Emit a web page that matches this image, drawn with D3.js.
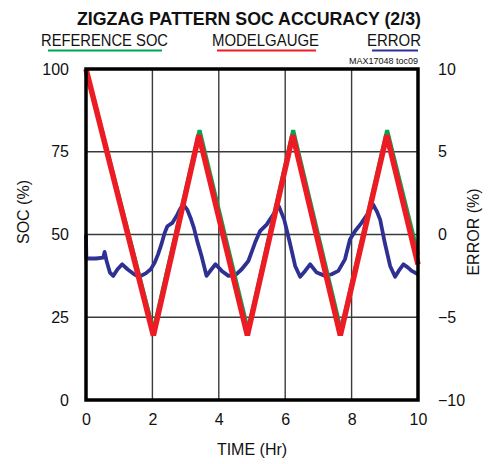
<!DOCTYPE html>
<html>
<head>
<meta charset="utf-8">
<script src="https://cdn.jsdelivr.net/npm/d3@7"></script>
<style>
  body { margin: 0; background: #fff; }
  svg text { font-family: "Liberation Sans", Arial, sans-serif; fill: #111; }
</style>
</head>
<body>
<div id="chart"></div>
<script>
'use strict';

// Reference SOC (green) breakpoints
const refTime = [0, 2.03, 3.42, 4.88, 6.24, 7.68, 9.07, 10];
const refSoc = [100, 21, 81.5, 21, 81.5, 21, 81.5, 44];

// ModelGauge SOC (red) breakpoints
const gaugeTime = [0, 2.03, 3.4, 4.86, 6.23, 7.66, 9.06, 10];
const gaugeSoc = [100, 19.5, 80, 19.5, 80, 19.5, 80, 41];

// Error (blue), right axis
const errTime = [0, 0.01, 0.3, 0.52, 0.56, 0.62, 0.72, 0.82, 0.95, 1.09, 1.25, 1.45, 1.6, 1.8, 1.95,
    2.07, 2.17, 2.27, 2.37, 2.45, 2.6, 2.75, 2.85, 2.95, 3.05, 3.15, 3.25, 3.35, 3.48, 3.63, 3.78,
    3.9, 4.09, 4.29, 4.5, 4.69, 4.89, 5.0, 5.09, 5.24, 5.44, 5.64, 5.81, 5.97, 6.14, 6.3, 6.45,
    6.6, 6.75, 6.95, 7.2, 7.4, 7.6, 7.8, 7.95, 8.1, 8.3, 8.5, 8.65, 8.76, 8.86, 9.0, 9.16, 9.31,
    9.45, 9.56, 9.7, 9.81, 10];
const errValue = [0, -1.45, -1.45, -1.4, -1.05, -1.6, -2.3, -2.5, -2.1, -1.8, -2.1, -2.4, -2.55, -2.35, -2.1,
    -1.7, -1.2, -0.6, 0.1, 0.5, 0.7, 1.2, 1.6, 1.75, 1.5, 1.0, 0.4, -0.4, -1.3, -2.5, -2.1,
    -1.8, -2.2, -2.5, -2.45, -2.1, -1.6, -1.0, -0.5, 0.2, 0.6, 1.2, 1.7, 0.9, -0.5, -1.9, -2.55,
    -2.2, -1.8, -2.3, -2.5, -2.4, -2.2, -1.5, -0.3, 0.2, 0.7, 1.3, 1.8, 1.4, 0.9, -0.5, -1.9, -2.55,
    -2.1, -1.8, -2.0, -2.2, -2.4];

const xTicks = [0, 2, 4, 6, 8, 10];
const socTicks = [0, 25, 50, 75, 100];
const errTicks = [-10, -5, 0, 5, 10];

const legendItems = [
    { label: "REFERENCE SOC", color: "#00a651" },
    { label: "MODELGAUGE", color: "#ed1c24" },
    { label: "ERROR", color: "#2e3192" }
];

const W = 488, H = 464;
const plot = { left: 86, right: 418, top: 69, bottom: 400 };

const svg = d3.select("#chart").append("svg")
    .attr("width", W)
    .attr("height", H);

const x = d3.scaleLinear().domain([0, 10]).range([plot.left, plot.right]);
const ySoc = d3.scaleLinear().domain([0, 100]).range([plot.bottom, plot.top]);
const yErr = d3.scaleLinear().domain([-10, 10]).range([plot.bottom, plot.top]);

// title
svg.append("text")
    .attr("x", 77).attr("y", 25)
    .attr("textLength", 344)
    .attr("lengthAdjust", "spacingAndGlyphs")
    .style("font-size", "19px")
    .style("font-weight", "bold")
    .text("ZIGZAG PATTERN SOC ACCURACY (2/3)");

// legend row
const legendPos = [
    { tx: 41, tw: 127, lx1: 48, lx2: 162 },
    { tx: 212, tw: 107, lx1: 217, lx2: 316 },
    { tx: 367, tw: 54, lx1: 372, lx2: 418 }
];
legendItems.forEach((d, i) => {
    const p = legendPos[i];
    svg.append("text")
        .attr("x", p.tx).attr("y", 46)
        .attr("textLength", p.tw)
        .attr("lengthAdjust", "spacingAndGlyphs")
        .style("font-size", "16px")
        .text(d.label);
    svg.append("line")
        .attr("x1", p.lx1).attr("x2", p.lx2)
        .attr("y1", 50.5).attr("y2", 50.5)
        .attr("stroke", d.color)
        .attr("stroke-width", 2.2);
});

svg.append("text")
    .attr("x", 418).attr("y", 64)
    .attr("text-anchor", "end")
    .style("font-size", "9px")
    .text("MAX17048 toc09");

// grid
const grid = svg.append("g");
grid.selectAll(".vgrid")
    .data(xTicks.slice(1, -1))
    .enter().append("line")
    .attr("x1", d => x(d)).attr("x2", d => x(d))
    .attr("y1", plot.top).attr("y2", plot.bottom)
    .attr("stroke", "#3a3a3a").attr("stroke-width", 1.4);
grid.selectAll(".hgrid")
    .data(socTicks.slice(1, -1))
    .enter().append("line")
    .attr("x1", plot.left).attr("x2", plot.right)
    .attr("y1", d => ySoc(d)).attr("y2", d => ySoc(d))
    .attr("stroke", "#3a3a3a").attr("stroke-width", 1.4);

// series
const errLine = d3.line()
    .x((d, i) => x(errTime[i]))
    .y(d => yErr(d));
svg.append("path")
    .datum(errValue)
    .attr("d", errLine)
    .attr("fill", "none")
    .attr("stroke", "#2e3192")
    .attr("stroke-width", 3.8)
    .attr("stroke-linejoin", "round");

const refLine = d3.line()
    .x((d, i) => x(refTime[i]))
    .y(d => ySoc(d));
svg.append("path")
    .datum(refSoc)
    .attr("d", refLine)
    .attr("fill", "none")
    .attr("stroke", "#00a651")
    .attr("stroke-width", 4);

const gaugeLine = d3.line()
    .x((d, i) => x(gaugeTime[i]))
    .y(d => ySoc(d));
svg.append("path")
    .datum(gaugeSoc)
    .attr("d", gaugeLine)
    .attr("fill", "none")
    .attr("stroke", "#ed1c24")
    .attr("stroke-width", 5.5);

// frame
svg.append("rect")
    .attr("x", plot.left).attr("y", plot.top)
    .attr("width", plot.right - plot.left)
    .attr("height", plot.bottom - plot.top)
    .attr("fill", "none")
    .attr("stroke", "#000")
    .attr("stroke-width", 3.5);

// axes labels
const xAxis = d3.axisBottom(x).tickValues(xTicks).tickSize(0).tickPadding(14);
svg.append("g")
    .attr("transform", "translate(0," + plot.bottom + ")")
    .call(xAxis)
    .call(g => g.select(".domain").remove())
    .selectAll("text")
    .style("font-size", "16px")
    .style("font-family", "Liberation Sans, Arial, sans-serif")
    .attr("fill", "#111");

const yAxisL = d3.axisLeft(ySoc).tickValues(socTicks).tickSize(0).tickPadding(17);
svg.append("g")
    .attr("transform", "translate(" + plot.left + ",0)")
    .call(yAxisL)
    .call(g => g.select(".domain").remove())
    .selectAll("text")
    .style("font-size", "16px")
    .style("font-family", "Liberation Sans, Arial, sans-serif")
    .attr("fill", "#111");

const yAxisR = d3.axisRight(yErr).tickValues(errTicks).tickSize(0).tickPadding(20);
svg.append("g")
    .attr("transform", "translate(" + plot.right + ",0)")
    .call(yAxisR)
    .call(g => g.select(".domain").remove())
    .selectAll("text")
    .style("font-size", "16px")
    .style("font-family", "Liberation Sans, Arial, sans-serif")
    .attr("fill", "#111");

svg.append("text")
    .attr("x", 252).attr("y", 455)
    .attr("text-anchor", "middle")
    .style("font-size", "16px")
    .text("TIME (Hr)");

svg.append("text")
    .attr("transform", "translate(29,212) rotate(-90)")
    .attr("text-anchor", "middle")
    .style("font-size", "16px")
    .text("SOC (%)");

svg.append("text")
    .attr("transform", "translate(479,232) rotate(-90)")
    .attr("text-anchor", "middle")
    .style("font-size", "16px")
    .text("ERROR (%)");
</script>
</body>
</html>
